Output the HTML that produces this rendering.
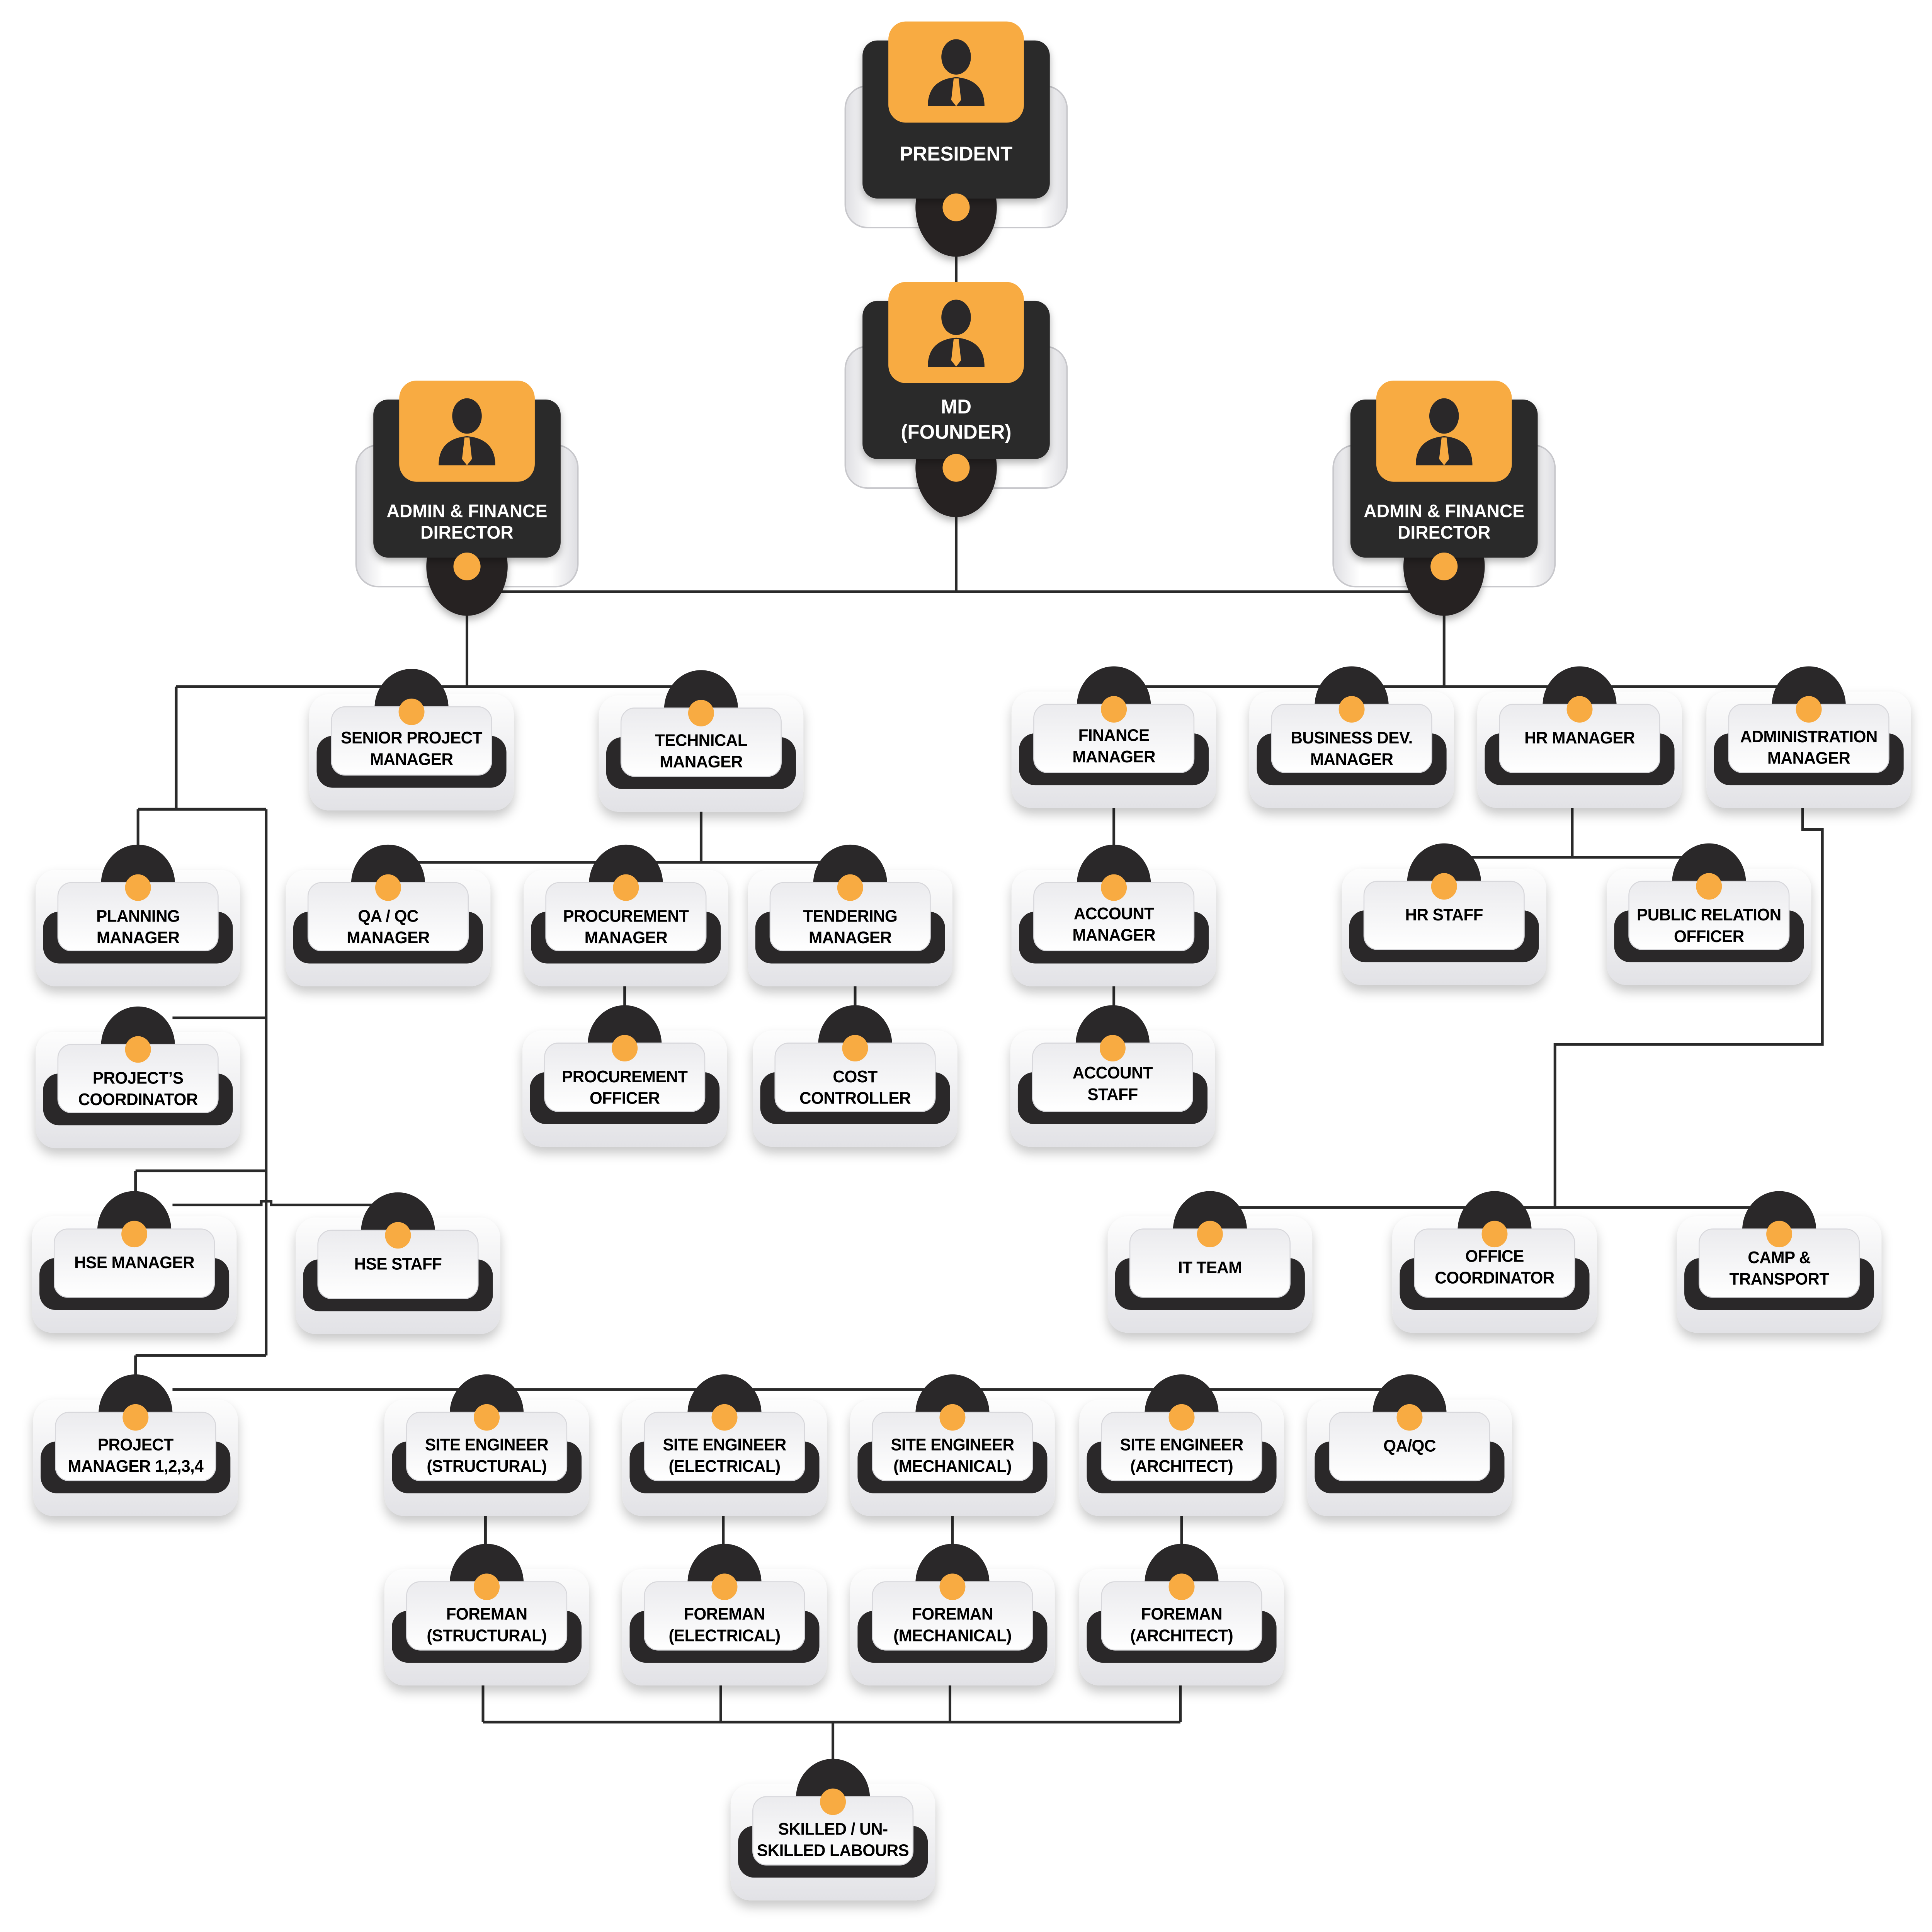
<!DOCTYPE html>
<html><head><meta charset="utf-8">
<style>
html,body{margin:0;padding:0;background:#fff;width:100%;height:100%;overflow:hidden;}
svg{display:block;width:100vw;height:100vh;}
text{font-family:"Liberation Sans",sans-serif;font-weight:bold;text-anchor:middle;}
.s{font-size:13.3px;fill:#000;letter-spacing:-0.2px;}
.w{font-size:14.5px;fill:#fff;}
</style></head><body>
<svg viewBox="0 0 1568 1528" preserveAspectRatio="none" xmlns="http://www.w3.org/2000/svg">
<defs>
<linearGradient id="go" x1="0" y1="0" x2="0" y2="1"><stop offset="0" stop-color="#fdfdfd"/><stop offset="1" stop-color="#e2e2e6"/></linearGradient>
<linearGradient id="gc" x1="0" y1="0" x2="0" y2="1"><stop offset="0" stop-color="#ebebee"/><stop offset="1" stop-color="#fff"/></linearGradient>
<linearGradient id="gb" x1="0" y1="0" x2="1" y2="0"><stop offset="0" stop-color="#dedee2"/><stop offset="0.12" stop-color="#fff"/><stop offset="0.88" stop-color="#fff"/><stop offset="1" stop-color="#dedee2"/></linearGradient>
<filter id="sh" x="-20%" y="-20%" width="140%" height="150%"><feDropShadow dx="0" dy="5" stdDeviation="4.5" flood-color="#000" flood-opacity="0.22"/></filter>
<filter id="sh2" x="-20%" y="-20%" width="140%" height="150%"><feDropShadow dx="0" dy="3" stdDeviation="3" flood-color="#000" flood-opacity="0.3"/></filter>
<g id="nd">
<rect x="0" y="20" width="166" height="92" rx="16" fill="url(#go)" filter="url(#sh)"/>
<rect x="6" y="53" width="154" height="41" rx="13" fill="#2a2829"/>
<path d="M53 31A30 31 0 0 1 113 31Z" fill="#2a2829"/>
<rect x="18" y="30" width="130" height="54" rx="11" fill="url(#gc)" stroke="#d8d8dc" stroke-width="0.8"/>
<circle cx="83" cy="34" r="10.5" fill="#f8ab42"/>
</g>
<g id="bn">
<rect x="0" y="51" width="180" height="112" rx="18" fill="url(#gb)" stroke="#c8c8cc" stroke-width="1.2"/>
<ellipse cx="90" cy="147" rx="33" ry="39" fill="#252324" filter="url(#sh2)"/>
<rect x="14" y="15" width="152" height="125" rx="12" fill="#2b292a" filter="url(#sh2)"/>
<rect x="35" y="0" width="110" height="80" rx="14" fill="#f8ab42"/>
<ellipse cx="90" cy="28" rx="12" ry="14" fill="#2a2829"/>
<path d="M67 67Q67 46 90 44Q113 46 113 67Z" fill="#2a2829"/>
<path d="M88 45H92L94 62L90 67L86 62Z" fill="#f8ab42"/>
<circle cx="90" cy="147" r="11" fill="#f8ab42"/>
</g>
</defs>

<g fill="none" stroke="#2a2a2a" stroke-width="2.2">
<path d="M776 180V230"/>
<path d="M776 385V468M379 468H1172M379 460V543M143 543H569M143 543V640M112 640H216M112 640V670M216 640V1072M140 805H216M110 926H216M110 926V945M140 953H212V950H220V953H323M110 1072H216M110 1072V1092M140 1099H1144"/>
<path d="M569 612V682M315 682H690M507 775V800M694 775V800"/>
<path d="M1172 460V543M904 543H1468M904 635V672M904 775V800M1276 635V678M1172 678H1387"/>
<path d="M1463 635V656H1479V826H1262V955M982 955H1444"/>
<path d="M394 1190V1225M587 1190V1225M773 1190V1225M959 1190V1225M392 1325V1362M585 1325V1362M771 1325V1362M958 1325V1362M392 1362H958M676 1362V1392"/>
</g>

<use href="#bn" x="686" y="17"/><text class="w" style="font-size:16px" x="776" y="127">PRESIDENT</text>
<use href="#bn" x="686" y="223"/><text class="w" style="font-size:16px" x="776" y="327">MD</text><text class="w" style="font-size:16px" x="776" y="347">(FOUNDER)</text>
<use href="#bn" x="289" y="301"/><text class="w" x="379" y="409">ADMIN &amp; FINANCE</text><text class="w" x="379" y="426">DIRECTOR</text>
<use href="#bn" x="1082" y="301"/><text class="w" x="1172" y="409">ADMIN &amp; FINANCE</text><text class="w" x="1172" y="426">DIRECTOR</text>

<use href="#nd" x="251" y="529"/><text class="s" x="334" y="588">SENIOR PROJECT</text><text class="s" x="334" y="605">MANAGER</text>
<use href="#nd" x="486" y="530"/><text class="s" x="569" y="590">TECHNICAL</text><text class="s" x="569" y="607">MANAGER</text>
<use href="#nd" x="821" y="527"/><text class="s" x="904" y="586">FINANCE</text><text class="s" x="904" y="603">MANAGER</text>
<use href="#nd" x="1014" y="527"/><text class="s" x="1097" y="588">BUSINESS DEV.</text><text class="s" x="1097" y="605">MANAGER</text>
<use href="#nd" x="1199" y="527"/><text class="s" x="1282" y="588">HR MANAGER</text>
<use href="#nd" x="1385" y="527"/><text class="s" x="1468" y="587">ADMINISTRATION</text><text class="s" x="1468" y="604">MANAGER</text>

<use href="#nd" x="29" y="668"/><text class="s" x="112" y="729">PLANNING</text><text class="s" x="112" y="746">MANAGER</text>
<use href="#nd" x="232" y="668"/><text class="s" x="315" y="729">QA / QC</text><text class="s" x="315" y="746">MANAGER</text>
<use href="#nd" x="425" y="668"/><text class="s" x="508" y="729">PROCUREMENT</text><text class="s" x="508" y="746">MANAGER</text>
<use href="#nd" x="607" y="668"/><text class="s" x="690" y="729">TENDERING</text><text class="s" x="690" y="746">MANAGER</text>
<use href="#nd" x="821" y="668"/><text class="s" x="904" y="727">ACCOUNT</text><text class="s" x="904" y="744">MANAGER</text>
<use href="#nd" x="1089" y="667"/><text class="s" x="1172" y="728">HR STAFF</text>
<use href="#nd" x="1304" y="667"/><text class="s" x="1387" y="728">PUBLIC RELATION</text><text class="s" x="1387" y="745">OFFICER</text>

<use href="#nd" x="29" y="796"/><text class="s" x="112" y="857">PROJECT’S</text><text class="s" x="112" y="874">COORDINATOR</text>
<use href="#nd" x="424" y="795"/><text class="s" x="507" y="856">PROCUREMENT</text><text class="s" x="507" y="873">OFFICER</text>
<use href="#nd" x="611" y="795"/><text class="s" x="694" y="856">COST</text><text class="s" x="694" y="873">CONTROLLER</text>
<use href="#nd" x="820" y="795"/><text class="s" x="903" y="853">ACCOUNT</text><text class="s" x="903" y="870">STAFF</text>

<use href="#nd" x="26" y="942"/><text class="s" x="109" y="1003">HSE MANAGER</text>
<use href="#nd" x="240" y="943"/><text class="s" x="323" y="1004">HSE STAFF</text>
<use href="#nd" x="899" y="942"/><text class="s" x="982" y="1007">IT TEAM</text>
<use href="#nd" x="1130" y="942"/><text class="s" x="1213" y="998">OFFICE</text><text class="s" x="1213" y="1015">COORDINATOR</text>
<use href="#nd" x="1361" y="942"/><text class="s" x="1444" y="999">CAMP &amp;</text><text class="s" x="1444" y="1016">TRANSPORT</text>

<use href="#nd" x="27" y="1087"/><text class="s" x="110" y="1147">PROJECT</text><text class="s" x="110" y="1164">MANAGER 1,2,3,4</text>
<use href="#nd" x="312" y="1087"/><text class="s" x="395" y="1147">SITE ENGINEER</text><text class="s" x="395" y="1164">(STRUCTURAL)</text>
<use href="#nd" x="505" y="1087"/><text class="s" x="588" y="1147">SITE ENGINEER</text><text class="s" x="588" y="1164">(ELECTRICAL)</text>
<use href="#nd" x="690" y="1087"/><text class="s" x="773" y="1147">SITE ENGINEER</text><text class="s" x="773" y="1164">(MECHANICAL)</text>
<use href="#nd" x="876" y="1087"/><text class="s" x="959" y="1147">SITE ENGINEER</text><text class="s" x="959" y="1164">(ARCHITECT)</text>
<use href="#nd" x="1061" y="1087"/><text class="s" x="1144" y="1148">QA/QC</text>

<use href="#nd" x="312" y="1221"/><text class="s" x="395" y="1281">FOREMAN</text><text class="s" x="395" y="1298">(STRUCTURAL)</text>
<use href="#nd" x="505" y="1221"/><text class="s" x="588" y="1281">FOREMAN</text><text class="s" x="588" y="1298">(ELECTRICAL)</text>
<use href="#nd" x="690" y="1221"/><text class="s" x="773" y="1281">FOREMAN</text><text class="s" x="773" y="1298">(MECHANICAL)</text>
<use href="#nd" x="876" y="1221"/><text class="s" x="959" y="1281">FOREMAN</text><text class="s" x="959" y="1298">(ARCHITECT)</text>

<use href="#nd" x="593" y="1391"/><text class="s" x="676" y="1451">SKILLED / UN-</text><text class="s" x="676" y="1468">SKILLED LABOURS</text>
</svg>
</body></html>
